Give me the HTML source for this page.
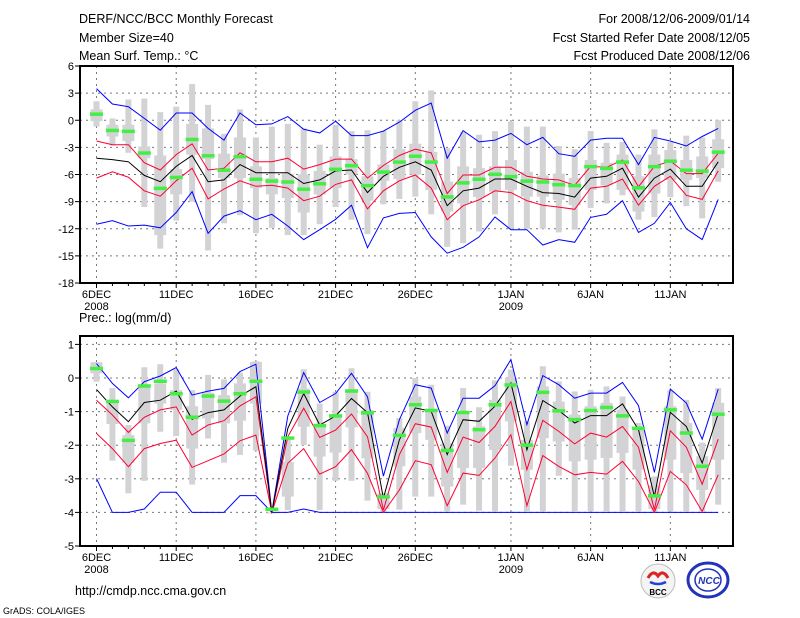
<!DOCTYPE html>
<html><head><meta charset="utf-8"><style>
body{margin:0;background:#fff;}
svg{display:block;font-family:"Liberation Sans",sans-serif;}
</style></head><body>
<svg id="c" width="800" height="618"></svg>
<script>
const days=["6DEC","11DEC","16DEC","21DEC","26DEC","1JAN","6JAN","11JAN"];
const dayIdx=[0,5,10,15,20,26,31,36];
// Top panel temperature (°C)
const tBlueHi=[3.5,1.8,1.5,0.2,-1.1,0.8,0.8,-0.9,-2.2,0.8,-0.5,-0.4,0.4,-1.0,-1.4,-0.1,-1.7,-1.7,-1.2,-0.2,1.1,1.9,-4.2,-1.15,-2.4,-2.2,-1.45,-2.7,-1.9,-3.7,-4.0,-2.2,-2.0,-2.0,-4.9,-1.9,-2.3,-2.85,-1.8,-0.9];
const tRedHi=[-2.3,-2.7,-2.7,-4.7,-5.5,-3.8,-2.6,-5.5,-5.3,-3.6,-4.6,-4.6,-4.2,-5.4,-4.9,-4.3,-4.3,-6.4,-5.0,-3.9,-3.2,-3.6,-8.1,-6.05,-6.05,-5.2,-5.2,-6.2,-6.5,-6.6,-7.2,-5.1,-5.2,-4.4,-7.35,-5.1,-4.5,-5.9,-5.9,-3.65];
const tMean=[-4.2,-4.35,-4.6,-6.1,-6.8,-5.1,-3.9,-6.8,-6.6,-4.9,-5.8,-5.8,-5.8,-7.0,-6.6,-5.6,-5.5,-8.0,-6.2,-5.2,-4.6,-5.5,-9.45,-7.8,-7.5,-6.5,-6.5,-7.3,-8.0,-8.1,-8.5,-6.4,-6.2,-5.3,-8.5,-6.4,-5.4,-7.3,-7.3,-4.6];
const tRedLo=[-6.4,-5.7,-6.3,-7.8,-8.4,-6.7,-5.3,-8.7,-7.6,-6.7,-7.3,-7.2,-7.5,-8.9,-8.4,-7.1,-6.6,-9.8,-7.8,-6.7,-6.05,-7.5,-11.0,-9.45,-8.8,-7.8,-8.0,-8.9,-9.4,-9.6,-9.85,-7.5,-7.3,-6.5,-9.4,-7.3,-6.2,-8.3,-8.75,-5.6];
const tBlueLo=[-11.5,-11.1,-11.7,-11.6,-11.9,-10.2,-7.9,-12.5,-10.6,-10.0,-11.0,-10.4,-11.7,-13.2,-12.1,-10.95,-9.4,-14.1,-10.8,-10.3,-10.2,-12.9,-14.7,-14.05,-12.9,-10.7,-12.1,-12.1,-13.8,-13.2,-13.5,-10.75,-10.4,-8.9,-12.4,-11.4,-9.1,-12.0,-13.2,-8.75];
const tObs=[0.7,-1.1,-1.2,-3.6,-7.5,-6.3,-2.1,-3.9,-5.5,-4.0,-6.5,-6.7,-6.8,-7.6,-7.0,-5.4,-5.0,-7.2,-5.7,-4.6,-3.95,-4.6,-8.45,-6.9,-6.5,-5.95,-6.2,-6.7,-6.8,-7.1,-7.2,-5.1,-5.3,-4.6,-7.45,-5.1,-4.5,-5.5,-5.6,-3.5];
const tWhiskHi=[2.1,0.2,2.3,2.4,0.9,1.5,4.0,1.7,-1.5,1.2,-1.9,-0.7,-0.4,-0.9,-2.7,-0.5,-1.2,-1.1,-1.2,0.0,2.1,3.3,-3.1,-1.3,-1.6,-1.2,-0.15,-0.7,-0.7,-2.85,-3.2,-1.2,-2.5,-2.4,-3.8,-1.0,-2.4,-1.7,-1.9,0.0];
const tWhiskLo=[-0.7,-2.8,-3.6,-9.6,-14.2,-11.1,-9.0,-14.4,-11.4,-10.5,-12.5,-11.9,-12.7,-12.7,-11.5,-9.6,-11.0,-12.6,-9.3,-8.7,-8.45,-10.4,-14.0,-13.6,-12.3,-10.4,-12.0,-12.0,-12.0,-12.4,-12.1,-9.7,-9.2,-8.3,-11.0,-10.7,-8.5,-9.5,-10.85,-6.8];
const tBoxHi=[1.2,-0.5,-0.5,-2.9,-3.9,-5.4,-0.4,-0.9,-3.7,-1.9,-5.1,-6.4,-5.9,-6.0,-5.6,-4.0,-4.3,-6.2,-4.9,-3.2,-2.6,-3.5,-6.8,-5.1,-5.3,-5.1,-4.4,-5.7,-6.1,-5.9,-6.4,-4.4,-4.7,-3.8,-6.2,-3.8,-3.3,-4.4,-4.0,-2.1];
const tBoxLo=[-0.1,-1.8,-2.3,-4.2,-12.7,-8.2,-3.8,-4.3,-6.4,-6.4,-7.5,-8.2,-8.6,-10.2,-8.2,-7.5,-6.0,-8.9,-6.7,-6.5,-6.0,-7.7,-10.1,-9.2,-8.5,-7.9,-7.7,-8.45,-8.45,-8.8,-9.4,-7.7,-7.2,-7.7,-10.1,-8.1,-6.6,-6.6,-6.4,-5.3];
// Bottom panel precipitation log(mm/d)
const pBlueHi=[0.43,-0.16,-0.59,-0.11,0.06,0.31,-0.51,-0.39,-0.31,0.19,0.41,-4,-1.13,0.16,-0.73,-0.46,0.14,-0.56,-2.92,-1.24,-0.2,-0.3,-1.64,-0.6,-0.6,-0.23,0.55,-1.39,0.07,-0.2,-0.6,-0.45,-0.45,-0.13,-0.82,-2.81,-0.33,-0.74,-1.82,-0.33];
const pRedHi=[-0.66,-1.1,-1.62,-1.17,-0.95,-0.86,-1.7,-1.4,-1.27,-0.83,-0.56,-4,-1.75,-0.9,-1.77,-1.55,-1.07,-1.75,-3.93,-2.28,-1.36,-1.46,-2.81,-1.76,-1.92,-1.44,-0.7,-2.73,-1.26,-1.59,-1.96,-1.64,-1.76,-1.44,-2.06,-3.92,-1.57,-2.06,-3.16,-1.82];
const pMean=[-0.34,-0.86,-1.3,-0.73,-0.66,-0.39,-1.23,-1.03,-0.95,-0.54,-0.26,-4,-1.5,-0.46,-1.4,-1.13,-0.61,-1.03,-3.58,-1.84,-0.89,-0.99,-2.28,-1.24,-1.29,-0.84,-0.15,-2.14,-0.67,-0.97,-1.34,-1.12,-1.12,-0.77,-1.54,-3.53,-1.02,-1.44,-2.53,-1.06];
const pRedLo=[-1.65,-2.1,-2.64,-2.1,-1.95,-1.85,-2.66,-2.46,-2.26,-1.87,-1.7,-4,-2.54,-2.1,-2.86,-2.64,-2.13,-2.84,-4,-3.33,-2.46,-2.58,-3.8,-2.83,-2.9,-2.38,-1.69,-3.8,-2.31,-2.63,-2.88,-2.81,-2.86,-2.48,-3.08,-4,-2.78,-3.18,-3.97,-2.88];
const pBlueLo=[-2.99,-4,-4,-3.9,-3.4,-3.4,-4,-4,-4,-3.5,-3.5,-4,-4,-3.9,-4,-4,-4,-4,-4,-4,-4,-4,-4,-4,-4,-4,-4,-4,-4,-4,-4,-4,-4,-4,-4,-4,-4,-4,-4,-4];
const pObs=[0.29,-0.69,-1.85,-0.23,-0.09,-0.46,-1.16,-0.53,-0.68,-0.46,-0.09,-3.9,-1.78,-0.41,-1.41,-1.12,-0.38,-1.03,-3.53,-1.7,-0.79,-0.96,-2.15,-1.02,-1.53,-0.79,-0.2,-1.99,-0.42,-0.97,-1.23,-0.96,-0.87,-1.12,-1.49,-3.5,-0.94,-1.63,-2.62,-1.07];
const pWhiskHi=[0.47,-0.3,-1.4,0.32,0.41,0.26,-0.36,0.09,-0.04,0.16,0.5,-4,-1.75,0.26,-0.76,-0.41,0.29,-0.41,-3.43,-1.19,0,-0.2,-1.42,-0.3,-0.87,-0.07,0.25,-1.29,0.35,-0.1,-0.4,-0.35,-0.25,-0.55,-1.34,-2.93,-0.37,-0.65,-1.92,-0.3];
const pWhiskLo=[-0.11,-2.46,-3.43,-3.06,-1.6,-1.73,-3.17,-1.8,-2.52,-2.29,-2.16,-4,-3.93,-2.0,-3.93,-3.06,-3.06,-3.65,-3.98,-3.92,-3.53,-3.53,-3.97,-3.77,-3.95,-3.97,-2.61,-3.97,-3.97,-2.91,-3.97,-3.97,-3.97,-3.97,-3.97,-3.97,-3.97,-3.97,-3.97,-3.77];
const pBoxHi=[0.47,-0.66,-1.7,-0.21,-0.16,-0.36,-0.84,-0.44,-0.51,-0.16,0.48,-4,-2.5,-0.31,-1.4,-1.1,-0.34,-0.95,-3.43,-1.49,-0.55,-0.94,-1.94,-1.04,-1.44,-0.65,0,-1.84,-0.25,-0.7,-1.09,-0.84,-0.74,-0.94,-1.54,-3.2,-0.84,-1.34,-2.33,-0.74];
const pBoxLo=[0.14,-1.37,-2.52,-1.35,-0.76,-0.95,-2.1,-1.2,-1.35,-1.27,-0.76,-4,-3.53,-1.45,-2.34,-2.22,-1.47,-2.39,-3.9,-2.63,-1.64,-1.84,-3.23,-2.68,-2.68,-2.14,-1.29,-2.73,-1.79,-1.89,-2.48,-2.43,-2.38,-2.23,-2.73,-3.9,-2.43,-2.83,-3.33,-2.43];
const tTicks=[6,3,0,-3,-6,-9,-12,-15,-18];
const pTicks=[1,0,-1,-2,-3,-4,-5];

const NS="http://www.w3.org/2000/svg";
const svg=document.getElementById('c');
function mk(tag,attrs,parent){const e=document.createElementNS(NS,tag);for(const k in attrs)e.setAttribute(k,attrs[k]);(parent||svg).appendChild(e);return e;}
const X0=80,X1=733;
function xd(i){return 96.5+i*15.94;}

function panel(name,yTop,yBot,vTop,vBot,ticks,S){
  const g=mk('g',{});
  
  
  const y=v=>yTop+(vTop-v)/(vTop-vBot)*(yBot-yTop);
  // grid
  ticks.forEach(t=>{const yy=y(t);if(yy>yTop+1&&yy<yBot-1){const l=mk('line',{x1:X0,x2:X1,y1:yy,y2:yy,stroke:'#777','stroke-width':1,'stroke-dasharray':'2,4'},g);}});
  dayIdx.forEach(i=>{const l=mk('line',{x1:xd(i),x2:xd(i),y1:yTop,y2:yBot,stroke:'#777','stroke-width':1,'stroke-dasharray':'2,4'},g);});
  // boxes
  for(let i=0;i<S.wh.length;i++){
    const x=xd(i);
    const w=mk('rect',{x:x-3,y:y(S.wh[i]),width:6,height:Math.max(1,y(S.wl[i])-y(S.wh[i])),fill:'#d3d3d6'},g);
    
    const b=mk('rect',{x:x-6,y:y(S.bh[i]),width:12,height:Math.max(1,y(S.bl[i])-y(S.bh[i])),fill:'#d3d3d6'},g);
    
  }
  const line=(arr,col,nm)=>{const p=mk('polyline',{points:arr.map((v,i)=>xd(i).toFixed(1)+','+y(v).toFixed(1)).join(' '),fill:'none',stroke:col,'stroke-width':1},g);};
  line(S.bhi,'#0000ff','upper-bound-line');
  line(S.blo,'#0000ff','lower-bound-line');
  line(S.rhi,'#ff0033','upper-spread-line');
  line(S.rlo,'#ff0033','lower-spread-line');
  line(S.m,'#000','ensemble-mean-line');
  S.o.forEach((v,i)=>{const r=mk('rect',{x:xd(i)-6.5,y:y(v)-1.5,width:13,height:3.5,fill:'#44ee44'},g);});
  // frame
  const f=mk('rect',{x:X0,y:yTop,width:X1-X0,height:yBot-yTop,fill:'none',stroke:'#000','stroke-width':2},g);
  
  ticks.forEach(t=>{const yy=y(t);mk('line',{x1:X0-5,x2:X0,y1:yy,y2:yy,stroke:'#000'},g);const tx=mk('text',{x:74,y:yy+4,'text-anchor':'end','font-size':11},g);tx.textContent=t;});
  for(let i=0;i<40;i++){mk('line',{x1:xd(i),x2:xd(i),y1:yBot,y2:yBot+(dayIdx.includes(i)?5:3),stroke:'#000'},g);}
  dayIdx.forEach((i,k)=>{const tx=mk('text',{x:xd(i),y:yBot+15,'text-anchor':'middle','font-size':11},g);tx.textContent=days[k];});
  [[0,'2008'],[26,'2009']].forEach(a=>{const tx=mk('text',{x:xd(a[0]),y:yBot+27,'text-anchor':'middle','font-size':11},g);tx.textContent=a[1];});
}
panel('temperature-panel',66,283,6,-18,tTicks,{bhi:tBlueHi,rhi:tRedHi,m:tMean,rlo:tRedLo,blo:tBlueLo,o:tObs,wh:tWhiskHi,wl:tWhiskLo,bh:tBoxHi,bl:tBoxLo});
panel('precipitation-panel',336,546,1.25,-5,pTicks,{bhi:pBlueHi,rhi:pRedHi,m:pMean,rlo:pRedLo,blo:pBlueLo,o:pObs,wh:pWhiskHi,wl:pWhiskLo,bh:pBoxHi,bl:pBoxLo});

function txt(s,x,y,size,anchor,nm){const t=mk('text',{x:x,y:y,'font-size':size,'text-anchor':anchor||'start'});t.textContent=s;return t;}
txt('DERF/NCC/BCC Monthly Forecast',79,23,12.5,'start','chart-title');
txt('Member Size=40',79,42,12.5,'start','member-size');
txt('Mean Surf. Temp.: °C',79,60,12.5,'start','temp-panel-title');
txt('For 2008/12/06-2009/01/14',750,23,12.5,'end','forecast-period');
txt('Fcst Started Refer Date 2008/12/05',750,42,12.5,'end','start-date');
txt('Fcst Produced Date 2008/12/06',750,60,12.5,'end','produced-date');
txt('Prec.: log(mm/d)',79,322,12.5,'start','precip-panel-title');
txt('http://cmdp.ncc.cma.gov.cn',75,595,12.5,'start','source-url');
txt('GrADS: COLA/IGES',3,614,9,'start','grads-credit');
// logos
const l1=mk('g',{});
mk('circle',{cx:658,cy:581,r:17,fill:'#f4f4f4',stroke:'#bbb'},l1);
mk('path',{d:'M648 578 q5 -9 10 -2 q5 -7 10 2',fill:'none',stroke:'#d22','stroke-width':3},l1);
mk('path',{d:'M650 582 q8 4 16 0',fill:'none',stroke:'#2244cc','stroke-width':2.5},l1);
const bt=mk('text',{x:658,y:595,'font-size':8,'text-anchor':'middle','font-weight':'bold','fill':'#000'},l1);bt.textContent='BCC';
const l2=mk('g',{});
mk('ellipse',{cx:708,cy:580,rx:20,ry:17,fill:'none',stroke:'#2233bb','stroke-width':3},l2);
mk('ellipse',{cx:708,cy:580,rx:13,ry:11,fill:'none',stroke:'#2233bb','stroke-width':1.5},l2);
const nt=mk('text',{x:709,y:584,'font-size':10,'text-anchor':'middle','font-weight':'bold','font-style':'italic','fill':'#2233bb'},l2);nt.textContent='NCC';
</script>
</body></html>
